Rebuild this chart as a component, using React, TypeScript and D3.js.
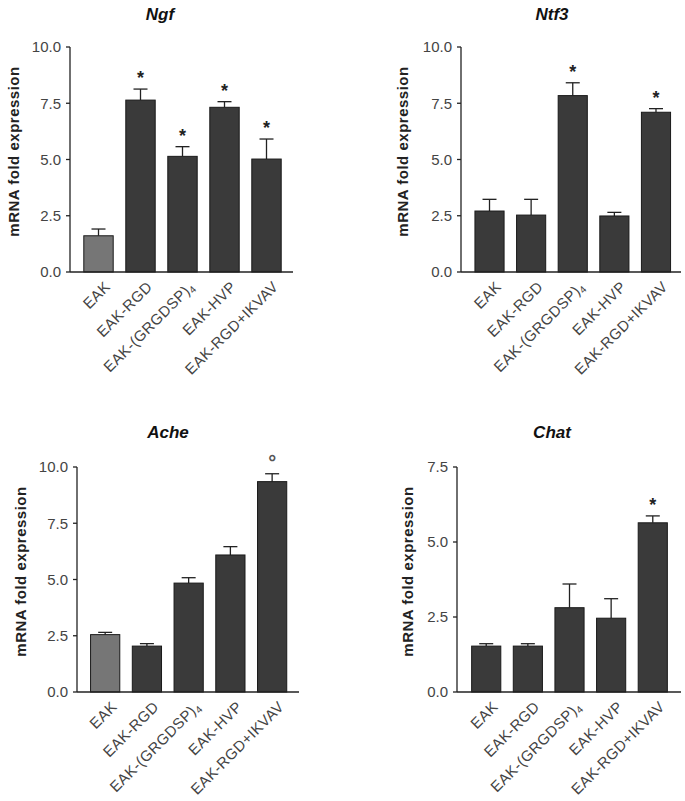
import { scaleBand, scaleLinear } from "d3";

const categories = ["EAK", "EAK-RGD", "EAK-(GRGDSP)4", "EAK-HVP", "EAK-RGD+IKVAV"];

const ngfValues = [1.61, 7.64, 5.14, 7.32, 5.02];
const ngfErrors = [0.3, 0.49, 0.43, 0.25, 0.89];
const ngfMarks = ["", "*", "*", "*", "*"];

const ntf3Values = [2.71, 2.53, 7.84, 2.49, 7.1];
const ntf3Errors = [0.52, 0.7, 0.57, 0.16, 0.16];
const ntf3Marks = ["", "", "*", "", "*"];

const acheValues = [2.55, 2.04, 4.84, 6.09, 9.35];
const acheErrors = [0.1, 0.11, 0.24, 0.37, 0.35];
const acheMarks = ["", "", "", "", "°"];

const chatValues = [1.53, 1.53, 2.81, 2.46, 5.64];
const chatErrors = [0.08, 0.08, 0.79, 0.65, 0.23];
const chatMarks = ["", "", "", "", "*"];

const ticks10 = [0, 2.5, 5, 7.5, 10];
const ticks75 = [0, 2.5, 5, 7.5];

const FONT = "'Liberation Sans', Arial, sans-serif";

type PanelProps = {
  title: string;
  values: number[];
  errors: number[];
  marks: string[];
  ticks: number[];
  yMax: number;
  axisX: number;
  top: number;
  bottom: number;
  bandStart: number;
  bandEnd: number;
  axisEnd: number;
  titleX: number;
  titleY: number;
  labelX: number;
  firstGray: boolean;
};

function Panel(p: PanelProps) {
  const y = scaleLinear().domain([0, p.yMax]).range([p.bottom, p.top]);
  const x = scaleBand<string>()
    .domain(categories)
    .range([p.bandStart, p.bandEnd])
    .paddingInner(0.3)
    .paddingOuter(0.15);
  const bw = x.bandwidth();

  return (
    <g>
      <text
        x={p.titleX}
        y={p.titleY}
        textAnchor="middle"
        fontFamily={FONT}
        fontSize={17}
        fontWeight="bold"
        fontStyle="italic"
        fill="#111"
      >
        {p.title}
      </text>
      <text
        transform={`translate(${p.labelX},${(p.top + p.bottom) / 2 - 8}) rotate(-90)`}
        textAnchor="middle"
        fontFamily={FONT}
        fontSize={15}
        fontWeight="bold"
        letterSpacing={0.5}
        fill="#222"
      >
        mRNA fold expression
      </text>

      {categories.map((c, i) => {
        const cx = (x(c) as number) + bw / 2;
        const v = p.values[i];
        const e = p.values[i] + p.errors[i];
        return (
          <g key={c}>
            <line x1={cx} x2={cx} y1={y(v)} y2={y(e)} stroke="#222" strokeWidth={1.3} />
            <line x1={cx - 7} x2={cx + 7} y1={y(e)} y2={y(e)} stroke="#222" strokeWidth={1.3} />
            <rect
              x={x(c)}
              y={y(v)}
              width={bw}
              height={p.bottom - y(v)}
              fill={i === 0 && p.firstGray ? "#767676" : "#3a3a3a"}
              stroke="#1a1a1a"
              strokeWidth={1}
            />
            {p.marks[i] === "*" && (
              <text
                x={cx}
                y={y(e) - 5}
                textAnchor="middle"
                fontFamily={FONT}
                fontSize={18}
                fontWeight="bold"
                fill="#222"
              >
                *
              </text>
            )}
            {p.marks[i] === "°" && (
              <text
                x={cx}
                y={y(e) - 5}
                textAnchor="middle"
                fontFamily={FONT}
                fontSize={20}
                fontWeight="bold"
                fill="#555"
              >
                °
              </text>
            )}
            <text
              transform={`translate(${cx + 9},${p.bottom + 12}) rotate(-45)`}
              textAnchor="end"
              dy="0.35em"
              fontFamily={FONT}
              fontSize={15}
              letterSpacing={0.4}
              fill="#444"
            >
              {c === "EAK-(GRGDSP)4" ? (
                <>
                  EAK-(GRGDSP)
                  <tspan fontSize={10} dy="3">4</tspan>
                </>
              ) : (
                c
              )}
            </text>
          </g>
        );
      })}

      <line x1={p.axisX} x2={p.axisX} y1={p.top} y2={p.bottom} stroke="#222" strokeWidth={1.3} />
      <line x1={p.axisX} x2={p.axisEnd} y1={p.bottom} y2={p.bottom} stroke="#222" strokeWidth={1.3} />
      {p.ticks.map((t) => (
        <g key={t}>
          <line x1={p.axisX - 4} x2={p.axisX} y1={y(t)} y2={y(t)} stroke="#222" strokeWidth={1.3} />
          <text
            x={p.axisX - 9}
            y={y(t)}
            dy="0.36em"
            textAnchor="end"
            fontFamily={FONT}
            fontSize={15}
            fill="#444"
          >
            {t.toFixed(1)}
          </text>
        </g>
      ))}
    </g>
  );
}

export default function App() {
  return (
    <svg
      width={685}
      height={801}
      style={{ position: "absolute", left: 0, top: 0, background: "#fff" }}
    >
      <Panel
        title="Ngf"
        values={ngfValues}
        errors={ngfErrors}
        marks={ngfMarks}
        ticks={ticks10}
        yMax={10}
        axisX={70}
        top={47}
        bottom={272}
        bandStart={77.5}
        bandEnd={287.5}
        axisEnd={293}
        titleX={160}
        titleY={20}
        labelX={19}
        firstGray={true}
      />
      <Panel
        title="Ntf3"
        values={ntf3Values}
        errors={ntf3Errors}
        marks={ntf3Marks}
        ticks={ticks10}
        yMax={10}
        axisX={461}
        top={47}
        bottom={272}
        bandStart={468.7}
        bandEnd={676.8}
        axisEnd={681}
        titleX={552}
        titleY={20}
        labelX={408}
        firstGray={false}
      />
      <Panel
        title="Ache"
        values={acheValues}
        errors={acheErrors}
        marks={acheMarks}
        ticks={ticks10}
        yMax={10}
        axisX={77}
        top={467}
        bottom={692}
        bandStart={84.3}
        bandEnd={293}
        axisEnd={299}
        titleX={168}
        titleY={438}
        labelX={26}
        firstGray={true}
      />
      <Panel
        title="Chat"
        values={chatValues}
        errors={chatErrors}
        marks={chatMarks}
        ticks={ticks75}
        yMax={7.5}
        axisX={457}
        top={467}
        bottom={692}
        bandStart={465.4}
        bandEnd={673.6}
        axisEnd={681}
        titleX={552}
        titleY={438}
        labelX={413}
        firstGray={false}
      />
    </svg>
  );
}
